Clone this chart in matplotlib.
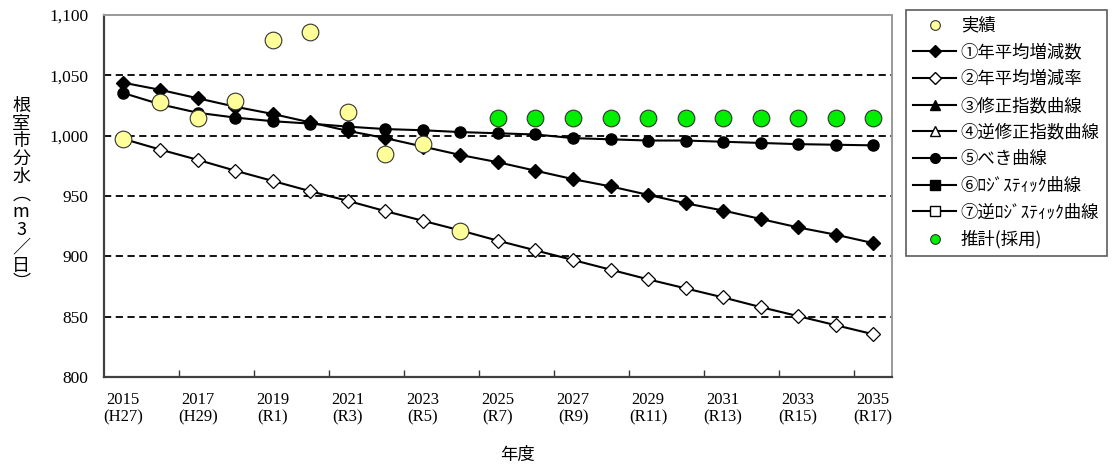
import matplotlib
matplotlib.use("Agg")
import matplotlib.pyplot as plt
from matplotlib.lines import Line2D
from matplotlib.ticker import FuncFormatter

plt.rcParams['font.family'] = ['Liberation Serif', 'Noto Sans CJK JP', 'DejaVu Sans']

years = list(range(2015, 2036))
era = ['H27', 'H28', 'H29', 'H30', 'R1', 'R2', 'R3', 'R4', 'R5', 'R6', 'R7',
       'R8', 'R9', 'R10', 'R11', 'R12', 'R13', 'R14', 'R15', 'R16', 'R17']

# 実績 (2015-2024)
actual = [997.5, 1028, 1015, 1029, 1079, 1086, 1020, 985, 993, 921]
# ①年平均増減数
linear = [1044, 1038, 1031, 1024, 1018, 1011, 1004, 998, 991, 984, 978,
          971, 964, 958, 951, 944, 938, 931, 924, 918, 911]
# ②年平均増減率
rate = [997.5, 988.5, 980, 971, 962.5, 954, 946, 937.5, 929.5, 921.5, 913,
        905, 897, 889, 881, 873.5, 866, 858, 850.5, 843, 835.5]
# ⑤べき曲線
power = [1035.5, 1026, 1019, 1015, 1012, 1010, 1007.5, 1005.5, 1004.5, 1003, 1002,
         1001, 998, 997, 996, 996, 995, 994, 993, 992.5, 992]
# 推計(採用) 2025-2035
adopted = [1015] * 11

x = list(range(len(years)))
x_actual = x[:len(actual)]
x_adopted = x[len(years) - len(adopted):]

fig = plt.figure(figsize=(11.13, 4.69), dpi=100)
ax = fig.add_axes([0.0934, 0.196, 0.7080, 0.772])

for v in [850, 900, 950, 1000, 1050]:
    ax.axhline(v, color='black', lw=1.3, ls=(0, (4, 2.5)), zorder=1)

ax.plot(x, linear, color='black', lw=1.5, marker='D', ms=7, mfc='black', mec='black', zorder=3)
ax.plot(x, rate, color='black', lw=1.5, marker='D', ms=7, mfc='white', mec='black', mew=0.9, zorder=3)
ax.plot(x, power, color='black', lw=1.5, marker='o', ms=8, mfc='black', mec='black', zorder=3)
ax.plot(x_actual, actual, ls='none', marker='o', ms=12, mfc='#FFFF99', mec='#333333', mew=0.8, zorder=5)
ax.plot(x_adopted, adopted, ls='none', marker='o', ms=12, mfc='#00EE00', mec='#333333', mew=0.8, zorder=5)

ax.set_xlim(-0.5, len(years) - 0.5)
ax.set_ylim(800, 1100)
ax.set_yticks(range(800, 1101, 50))
ax.yaxis.set_major_formatter(FuncFormatter(lambda v, p: f"{int(v):,}"))

lab_pos = x[::2]
ax.set_xticks(lab_pos)
ax.set_xticklabels([f"{years[i]}\n({era[i]})" for i in lab_pos], fontsize=12, linespacing=1.1)
ax.set_xticks([i + 1.5 for i in range(0, 19, 2)], minor=True)
ax.tick_params(axis='x', which='major', length=0, pad=11)
ax.tick_params(axis='x', which='minor', direction='in', length=5, width=1, color='#333333')
ax.tick_params(axis='y', which='major', direction='in', length=0, pad=11, labelsize=12.5)

for side in ['left', 'bottom']:
    ax.spines[side].set_color('#404040')
    ax.spines[side].set_linewidth(1.6)
for side in ['top', 'right']:
    ax.spines[side].set_color('#9a9a9a')
    ax.spines[side].set_linewidth(1.4)

fig.text(0.019, 0.585, "根\n室\n市\n分\n水\n︵\nm\n3\n／\n日\n︶", ha='center', va='center',
         fontsize=13, linespacing=0.98, family=['Noto Sans CJK JP', 'DejaVu Sans'])
fig.text(0.465, 0.03, "年度", ha='center', va='center', fontsize=12.5,
         family=['Noto Sans CJK JP', 'DejaVu Sans'])

handles = [
    Line2D([], [], ls='none', marker='o', ms=7, mfc='#FFFF99', mec='#333333', mew=0.8),
    Line2D([], [], color='black', lw=1.5, marker='D', ms=6, mfc='black', mec='black'),
    Line2D([], [], color='black', lw=1.5, marker='D', ms=6, mfc='white', mec='black'),
    Line2D([], [], color='black', lw=1.5, marker='^', ms=7, mfc='black', mec='black'),
    Line2D([], [], color='black', lw=1.5, marker='^', ms=7, mfc='white', mec='black'),
    Line2D([], [], color='black', lw=1.5, marker='o', ms=7, mfc='black', mec='black'),
    Line2D([], [], color='black', lw=1.5, marker='s', ms=7, mfc='black', mec='black'),
    Line2D([], [], color='black', lw=1.5, marker='s', ms=7, mfc='white', mec='black'),
    Line2D([], [], ls='none', marker='o', ms=7, mfc='#00EE00', mec='#333333', mew=0.8),
]
labels = ['実績', '①年平均増減数', '②年平均増減率', '③修正指数曲線', '④逆修正指数曲線',
          '⑤べき曲線', '⑥ﾛｼﾞｽﾃｨｯｸ曲線', '⑦逆ﾛｼﾞｽﾃｨｯｸ曲線', '推計(採用)']
leg = fig.legend(handles, labels, loc='upper left', bbox_to_anchor=(0.814, 0.979),
                 frameon=True, fancybox=False, edgecolor='#333333',
                 prop={'family': ['Noto Sans CJK JP', 'DejaVu Sans'], 'size': 12.5},
                 handlelength=2.5, handletextpad=0.25, labelspacing=0.5,
                 borderpad=0.4, borderaxespad=0)
leg.get_frame().set_linewidth(1.2)

fig.savefig("out.png", dpi=100)
